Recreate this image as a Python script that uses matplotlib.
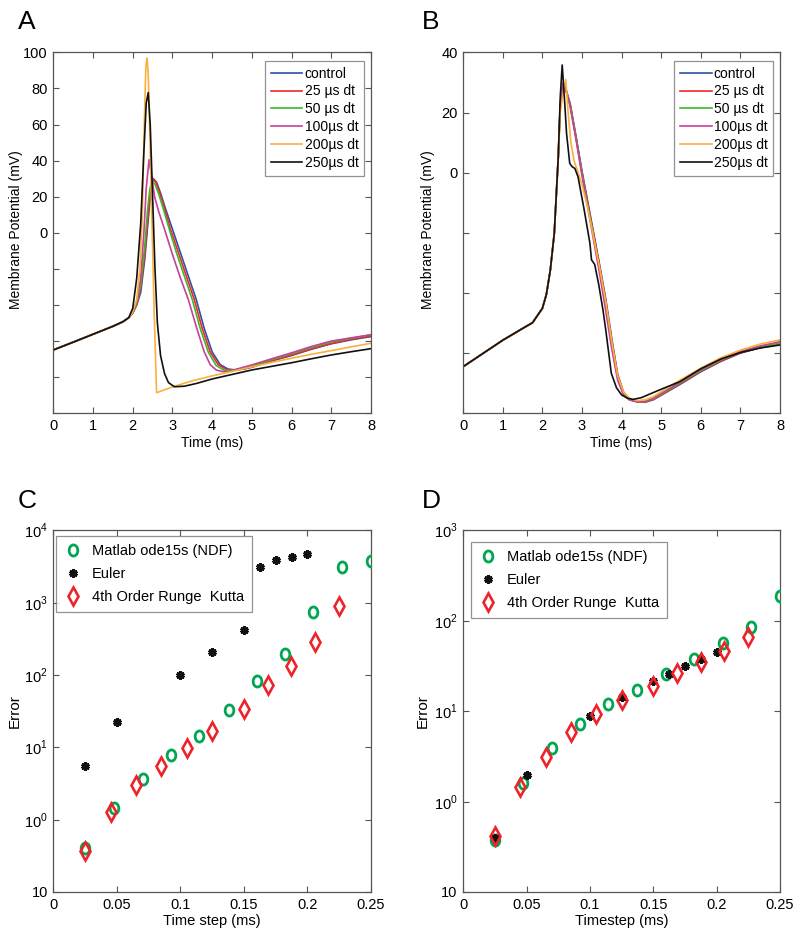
import numpy as np
import matplotlib
matplotlib.use("Agg")
import matplotlib.pyplot as plt
from matplotlib.path import Path
from matplotlib.transforms import Affine2D

plt.rcParams['font.family'] = ['Liberation Sans', 'DejaVu Sans']
plt.rcParams['mathtext.fontset'] = 'custom'
plt.rcParams['mathtext.rm'] = 'Liberation Sans'

# ---- panel A: membrane potential traces (ms, mV) ----
base_a_t = [0, 0.5, 1.0, 1.5, 1.75, 1.9]
base_a_v = [-64.9, -60.6, -56.2, -51.8, -49.3, -47.0]

a_control_t = [2.0, 2.1, 2.2, 2.3, 2.38, 2.45, 2.52, 2.6, 2.7, 2.8, 3.0, 3.2, 3.4, 3.6, 3.8, 4.0, 4.2,
               4.4, 4.6, 4.8, 5.0, 5.5, 6.0, 6.5, 7.0, 7.5, 8.0]
a_control_v = [-44.5, -40, -33, -15, 5, 22, 30, 28, 22, 15, 2, -11, -24, -37, -53, -66, -73,
               -75.5, -76, -75.5, -74.5, -71, -68, -64.5, -61.5, -59.3, -57.5]
a_25_t = [2.0, 2.1, 2.2, 2.3, 2.38, 2.44, 2.5, 2.58, 2.68, 2.78, 2.95, 3.15, 3.35, 3.55, 3.75, 3.95, 4.15,
          4.35, 4.55, 4.8, 5.0, 5.5, 6.0, 6.5, 7.0, 7.5, 8.0]
a_25_v = [-44.4, -39.5, -31, -12, 8, 23, 30, 28, 22, 15, 2, -11, -24, -37, -53, -66, -73,
          -75.8, -76, -75.3, -74.3, -70.8, -67.7, -64.3, -61.3, -59, -57.2]
a_50_t = [2.0, 2.1, 2.2, 2.3, 2.37, 2.43, 2.48, 2.56, 2.66, 2.76, 2.92, 3.1, 3.3, 3.5, 3.7, 3.9, 4.1,
          4.3, 4.5, 4.75, 5.0, 5.5, 6.0, 6.5, 7.0, 7.5, 8.0]
a_50_v = [-44.3, -39, -29, -8, 12, 24, 28.5, 27, 21, 14, 2, -11, -24, -37, -53, -66, -73.5,
          -76.2, -76.2, -75.2, -74, -70.3, -67, -63.5, -60.5, -58.5, -56.5]
a_100_t = [2.0, 2.1, 2.2, 2.28, 2.34, 2.41, 2.47, 2.55, 2.65, 2.8, 3.0, 3.2, 3.4, 3.6, 3.8, 3.95, 4.1,
           4.28, 4.45, 4.62, 5.0, 5.5, 6.0, 6.5, 7.0, 7.5, 8.0]
a_100_v = [-44.0, -38, -25, 0, 25, 40.5, 32, 20, 12, 2, -12, -25, -37, -52, -66, -73, -76,
           -77, -76.8, -75.5, -73.2, -69.8, -66.5, -63, -60, -58.2, -56.5]
a_200_t = [2.0, 2.1, 2.18, 2.24, 2.29, 2.33, 2.36, 2.39, 2.43, 2.48, 2.54, 2.6, 3.0, 3.5, 4.0, 4.5,
           5.0, 5.5, 6.0, 6.5, 7.0, 7.5, 8.0]
a_200_v = [-44, -37, -20, 9, 60, 92, 97, 88, 55, 9, -45, -88.6, -85.4, -82, -79.3, -76.8,
           -74.3, -71.8, -69.5, -67.3, -65.3, -63.2, -61.2]
a_250_t = [2.0, 2.1, 2.2, 2.28, 2.34, 2.39, 2.44, 2.5, 2.56, 2.62, 2.7, 2.8, 2.9, 3.05, 3.3, 3.6,
           4.0, 4.5, 5.0, 5.5, 6.0, 6.5, 7.0, 7.5, 8.0]
a_250_v = [-41.8, -25, 5, 45, 72, 77.7, 60, 20, -20, -50, -68, -78, -83, -85.3, -85, -83.5,
           -81, -78.5, -76, -74, -72, -69.8, -67.7, -65.9, -64.2]

# ---- panel B ----
base_b_t = [0, 0.5, 1.0, 1.5, 1.75, 2.0, 2.1, 2.2, 2.3, 2.4]
base_b_v = [-64.5, -60.1, -55.7, -51.8, -49.9, -45.1, -40.5, -32.4, -20.2, 5]

b_grid_t = [2.45, 2.52, 2.6, 2.7, 2.85, 3.0, 3.15, 3.3, 3.45, 3.6, 3.75, 3.9, 4.05, 4.2, 4.4, 4.6,
            4.8, 5.0, 5.5, 6.0, 6.5, 7.0, 7.5, 8.0]
b_control_v = [22, 29.7, 27.5, 23, 12, 0.5, -10, -20.5, -31, -42, -55, -67, -73, -75.3, -76.2, -76.3,
               -75.5, -74, -70.2, -66.2, -62.8, -60, -58.2, -57]
b_25_v = [22, 29.7, 27.3, 22.8, 11.7, 0, -10.6, -21, -31.6, -42.8, -55.8, -67.5, -73.3, -75.4, -76.2, -76.2,
          -75.4, -73.9, -70, -66, -62.6, -59.9, -58.1, -56.9]
b_50_v = [22.2, 29.6, 27.2, 22.5, 11.4, -0.4, -11.2, -21.8, -32.5, -44, -57, -68.2, -73.6, -75.5, -76.2, -76.1,
          -75.2, -73.7, -69.7, -65.8, -62.3, -59.7, -57.9, -56.7]
b_100_v = [22.5, 29.5, 27, 22, 11, -1, -12, -23, -34, -46, -58.5, -69, -74, -75.6, -76.2, -76,
           -75, -73.4, -69.4, -65.5, -62.1, -59.4, -57.6, -56.2]
b_200_t = [2.45, 2.52, 2.59, 2.65, 2.72, 2.8, 2.9, 3.0, 3.15, 3.3, 3.45, 3.6, 3.75, 3.9, 4.05, 4.2,
           4.4, 4.6, 4.8, 5.0, 5.5, 6.0, 6.5, 7.0, 7.5, 8.0]
b_200_v = [20, 26, 31, 20, 10, 4, 0, -4, -12, -22, -32, -43, -56, -67.5, -73, -75,
           -75.8, -75.5, -74.5, -72.8, -68.8, -65, -61.6, -59, -57, -55.6]
b_250_t = [2.45, 2.5, 2.56, 2.61, 2.69, 2.75, 2.82, 2.9, 3.05, 3.2, 3.24, 3.32, 3.42, 3.53, 3.6, 3.74,
           3.87, 4.0, 4.15, 4.29, 4.5, 5.0, 5.47, 6.0, 6.5, 7.0, 7.5, 8.0]
b_250_v = [25, 35.8, 24, 13, 3.1, 2, 1.4, -1.4, -12, -23.5, -29, -30.5, -37, -45.7, -52.3, -66.7,
           -71.5, -73.9, -75, -75.4, -74.8, -72, -69.5, -65.2, -62, -59.8, -58.3, -57.3]

trace_labels = ['control', '25 µs dt', '50 µs dt', '100µs dt', '200µs dt', '250µs dt']
trace_colors = ['#2f4fa8', '#f02828', '#3cb82c', '#c8409c', '#fbb03b', '#111111']

# ---- panel C / D: error vs time step ----
c_ode_x = [0.025, 0.048, 0.0703, 0.0926, 0.115, 0.138, 0.16, 0.182, 0.2046, 0.2274, 0.25]
c_ode_y = [0.405, 1.45, 3.6, 7.7, 14.5, 32.5, 81.7, 197, 735, 3112, 3690]
c_euler_x = [0.025, 0.05, 0.1, 0.125, 0.15, 0.1625, 0.175, 0.1875, 0.2]
c_euler_y = [5.5, 22.4, 101, 204, 419, 3112, 3925, 4275, 4656]
c_rk_x = [0.025, 0.045, 0.065, 0.085, 0.105, 0.125, 0.15, 0.169, 0.187, 0.206, 0.225]
c_rk_y = [0.369, 1.29, 3.01, 5.58, 9.9, 16.8, 33.9, 72.8, 133, 289, 909]

d_ode_x = [0.025, 0.0473, 0.0699, 0.0923, 0.1146, 0.137, 0.16, 0.182, 0.205, 0.227, 0.25]
d_ode_y = [0.373, 1.60, 3.91, 7.15, 11.9, 16.9, 25.8, 38.1, 57.2, 85.3, 189]
d_euler_x = [0.025, 0.05, 0.1, 0.125, 0.15, 0.1625, 0.175, 0.1875, 0.2]
d_euler_y = [0.395, 1.95, 8.85, 14.2, 21.4, 25.8, 31.1, 38.1, 44.7]
d_rk_x = [0.025, 0.0447, 0.065, 0.085, 0.105, 0.125, 0.15, 0.1686, 0.1875, 0.206, 0.2248]
d_rk_y = [0.416, 1.45, 3.11, 5.88, 9.22, 13.1, 19.1, 26.4, 34.7, 46.7, 66.1]

err_labels = ['Matlab ode15s (NDF)', 'Euler', '4th Order Runge  Kutta']

FRAME = '#555555'


def style_axes(ax):
    for sp in ax.spines.values():
        sp.set_color(FRAME)
        sp.set_linewidth(0.9)
    ax.tick_params(direction='in', top=True, right=True, length=4, width=0.8,
                   color=FRAME, labelsize=10.5, pad=4)


fig = plt.figure(figsize=(8, 9.35), dpi=100)
axA = fig.add_axes([0.0667, 0.558, 0.397, 0.386])
axB = fig.add_axes([0.579, 0.558, 0.396, 0.386])
axC = fig.add_axes([0.0667, 0.046, 0.397, 0.387])
axD = fig.add_axes([0.579, 0.046, 0.396, 0.387])

# panel A
a_traces = [(a_control_t, a_control_v), (a_25_t, a_25_v), (a_50_t, a_50_v),
            (a_100_t, a_100_v), (a_200_t, a_200_v), (a_250_t, a_250_v)]
for (t, v), lab, col in zip(a_traces, trace_labels, trace_colors):
    axA.plot(base_a_t + t, base_a_v + v, color=col, lw=1.2, label=lab)
axA.set_xlim(0, 8)
axA.set_ylim(-100, 100)
axA.set_xticks(range(0, 9))
axA.set_yticks(range(-100, 101, 20))
axA.set_yticklabels(['' if y < 0 else str(y) for y in range(-100, 101, 20)])

# panel B
b_traces = [(b_grid_t, b_control_v), (b_grid_t, b_25_v), (b_grid_t, b_50_v),
            (b_grid_t, b_100_v), (b_200_t, b_200_v), (b_250_t, b_250_v)]
for (t, v), lab, col in zip(b_traces, trace_labels, trace_colors):
    axB.plot(base_b_t + t, base_b_v + v, color=col, lw=1.2, label=lab)
axB.set_xlim(0, 8)
axB.set_ylim(-80, 40)
axB.set_xticks(range(0, 9))
axB.set_yticks(range(-80, 41, 20))
axB.set_yticklabels(['' if y < 0 else str(y) for y in range(-80, 41, 20)])

for ax in (axA, axB):
    style_axes(ax)
    ax.set_xlabel('Time (ms)', fontsize=10, labelpad=2)
    ax.set_ylabel('Membrane Potential (mV)', fontsize=10)
    leg = ax.legend(loc='upper right', bbox_to_anchor=(0.978, 0.976), borderaxespad=0,
                    fontsize=10, handlelength=2.3, handletextpad=0.15,
                    labelspacing=0.28, borderpad=0.4, fancybox=False)
    leg.get_frame().set_edgecolor('#777777')
    leg.get_frame().set_linewidth(0.9)
axA.yaxis.set_label_coords(-0.095, 0.51)
axB.yaxis.set_label_coords(-0.09, 0.51)

# panels C, D
oval = Path.unit_circle().transformed(Affine2D().scale(0.78, 1.0))
GREEN = '#00a651'
RED = '#ee2229'
for ax, ox, oy, ex, ey, rx, ry, ytop, anchor, xl in [
        (axC, c_ode_x, c_ode_y, c_euler_x, c_euler_y, c_rk_x, c_rk_y, 4, (0.0085, 0.983), 'Time step (ms)'),
        (axD, d_ode_x, d_ode_y, d_euler_x, d_euler_y, d_rk_x, d_rk_y, 3, (0.024, 0.967), 'Timestep (ms)')]:
    ax.plot(ox, oy, ls='none', marker=oval, ms=8, mfc='none', mec=GREEN, mew=2.0,
            label=err_labels[0], zorder=3)
    ax.plot(ex, ey, ls='none', marker=(6, 2, 0), ms=6, mec='#111111', mew=2.2,
            label=err_labels[1], zorder=4)
    ax.plot(rx, ry, ls='none', marker='d', ms=9, mfc='none', mec=RED, mew=1.9,
            label=err_labels[2], zorder=5)
    ax.set_yscale('log')
    ax.set_xlim(0, 0.25)
    ax.set_ylim(0.1, 10 ** ytop)
    ax.set_xticks([0, 0.05, 0.1, 0.15, 0.2, 0.25])
    ax.set_xticklabels(['0', '0.05', '0.1', '0.15', '0.2', '0.25'])
    yt = [10.0 ** k for k in range(-1, ytop + 1)]
    ax.set_yticks(yt)
    ax.set_yticklabels(['10'] + ['$10^{%d}$' % k for k in range(0, ytop + 1)])
    ax.minorticks_off()
    style_axes(ax)
    ax.set_xlabel(xl, fontsize=10.5, labelpad=2)
    ax.set_ylabel('Error', fontsize=11)
    leg = ax.legend(loc='upper left', bbox_to_anchor=anchor, borderaxespad=0,
                    fontsize=10.5, handlelength=1.2, handletextpad=0.7,
                    labelspacing=0.6, borderpad=0.55, fancybox=False)
    leg.get_frame().set_edgecolor('#777777')
    leg.get_frame().set_linewidth(0.9)
axC.yaxis.set_label_coords(-0.1, 0.5)
axD.yaxis.set_label_coords(-0.105, 0.5)

for x, y, s in [(0.022, 0.989, 'A'), (0.527, 0.989, 'B'), (0.022, 0.477, 'C'), (0.527, 0.477, 'D')]:
    fig.text(x, y, s, fontsize=19, va='top', ha='left')

fig.savefig('out.png', dpi=100)
